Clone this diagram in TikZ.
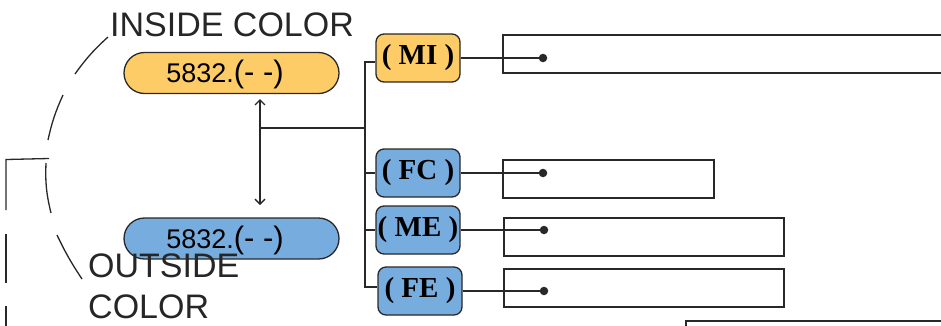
\documentclass[tikz,border=0pt]{standalone}
\usepackage{fontspec}
\setmainfont{Liberation Sans}
\newfontfamily\boxfont{Liberation Serif}
\usetikzlibrary{arrows.meta,calc}
\definecolor{pillorange}{RGB}{253,204,102}
\definecolor{pillblue}{RGB}{118,172,222}
\definecolor{edge}{RGB}{40,40,40}
\tikzset{
  pill/.style={draw=edge,line width=1.3pt,rounded corners=20.5pt,minimum width=215pt,minimum height=41pt,inner sep=0pt},
  pilltext/.style={inner sep=0pt,text=black},
  tag/.style={draw=edge,line width=1.3pt,rounded corners=8pt,minimum width=84pt,minimum height=48pt,inner sep=0pt,font=\boxfont\bfseries\fontsize{29}{32}\selectfont},
  slot/.style={draw=edge,line width=1.3pt,inner sep=0pt},
  conn/.style={draw=edge,line width=1.3pt},
  bigtext/.style={inner sep=0pt,font=\fontsize{34}{40}\selectfont,text=black!85},
  dot/.style={fill=edge,circle,inner sep=0pt,minimum size=8.5pt}
}
\begin{document}
\begin{tikzpicture}[x=1pt,y=-1pt]
\useasboundingbox (0,0) rectangle (941,325);
\clip (0,0) rectangle (941,325);
% pills
\node[pill,fill=pillorange] (inpill) at (231.5,73) {};
\node[pill,fill=pillblue] (outpill) at (231.5,238.5) {};
\node[pilltext,anchor=base] (intxt) at (225,82) {{\fontsize{27}{30}\selectfont 5832.}{\fontsize{31}{30}\selectfont(- -)}};
\node[pilltext,anchor=base] (outtxt) at (225,248) {{\fontsize{27}{30}\selectfont 5832.}{\fontsize{31}{30}\selectfont(- -)}};
% labels
\node[bigtext,anchor=base west] (inlbl) at (110,36) {INSIDE COLOR};
\node[bigtext,anchor=base west] (outlbl1) at (88,277) {OUTSIDE};
\node[bigtext,anchor=base west] (outlbl2) at (88,318) {COLOR};
% dashed arc pieces
\draw[conn] (108,37) to[bend right=6] (75,74);
\draw[conn] (63,95) to[bend right=6] (48,140);
\draw[conn] (46,163) to[bend right=8] (51,213);
\draw[conn] (57,235) to[bend right=4] (82,279);
% left bracket
\draw[conn] (49,158.5) -- (6,159.5) -- (6,210);
\draw[conn] (6,234) -- (6,283);
\draw[conn] (6,306) -- (6,330);
% arrow between pills
\coordinate (atop) at (260,99);
\coordinate (abot) at (260,205);
\coordinate (amid) at (260,128);
\draw[conn,{Straight Barb[length=5pt,width=10pt]}-{Straight Barb[length=5pt,width=10pt]}] (atop) -- (abot);
\coordinate (jt) at (365,128);
\draw[conn] (amid) -- (jt);
% tags
\node[tag,fill=pillorange] (mi) at (418,58) {( MI )};
\node[tag,fill=pillblue] (fc) at (418,173) {( FC )};
\node[tag,fill=pillblue] (me) at (418,230) {( ME )};
\node[tag,fill=pillblue] (fe) at (420,291) {( FE )};
\draw[conn] (jt) |- ([yshift=-4pt]mi.west);
\draw[conn] (jt) |- (fc.west);
\draw[conn] (jt) |- (me.west);
\draw[conn] (jt) |- ([yshift=4pt]fe.west);
% slots
\draw[slot] (960,35) -- (503,35) -- (503,73) -- (960,73);
\node[slot,minimum width=211pt,minimum height=38pt] (sfc) at (608.5,179) {};
\node[slot,minimum width=280pt,minimum height=38pt] (sme) at (644,237) {};
\node[slot,minimum width=280pt,minimum height=38pt] (sfe) at (644,288) {};
\draw[slot] (686,340) -- (686,321) -- (960,321);
% dots and leaders
\node[dot] (dmi) at (543,58) {};
\node[dot] (dfc) at (543,173) {};
\node[dot] (dme) at (544,230) {};
\node[dot] (dfe) at (544,291) {};
\draw[conn] (mi.east) -- (dmi.center);
\draw[conn] (fc.east) -- (dfc.center);
\draw[conn] (me.east) -- (dme.center);
\draw[conn] (fe.east) -- (dfe.center);
\end{tikzpicture}
\end{document}
